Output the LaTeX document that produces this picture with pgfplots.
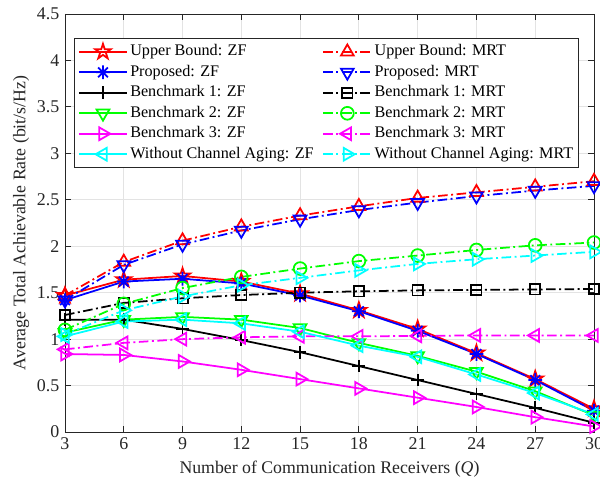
\documentclass[border=0pt]{standalone}
\usepackage{pgfplots}
\pgfplotsset{compat=1.18}
\usepackage{fontspec}
\setmainfont{Liberation Serif}
\usetikzlibrary{plotmarks}
\definecolor{mgreen}{rgb}{0,1,0}
\definecolor{mmag}{rgb}{1,0,1}
\definecolor{mcyan}{rgb}{0,1,1}
\definecolor{axgray}{rgb}{0.15,0.15,0.15}
\pgfdeclareplotmark{pentagram}{%
  \pgfpathmoveto{\pgfpointpolar{90}{\pgfplotmarksize}}%
  \pgfpathlineto{\pgfpointpolar{126}{0.382\pgfplotmarksize}}%
  \pgfpathlineto{\pgfpointpolar{162}{\pgfplotmarksize}}%
  \pgfpathlineto{\pgfpointpolar{198}{0.382\pgfplotmarksize}}%
  \pgfpathlineto{\pgfpointpolar{234}{\pgfplotmarksize}}%
  \pgfpathlineto{\pgfpointpolar{270}{0.382\pgfplotmarksize}}%
  \pgfpathlineto{\pgfpointpolar{306}{\pgfplotmarksize}}%
  \pgfpathlineto{\pgfpointpolar{342}{0.382\pgfplotmarksize}}%
  \pgfpathlineto{\pgfpointpolar{18}{\pgfplotmarksize}}%
  \pgfpathlineto{\pgfpointpolar{54}{0.382\pgfplotmarksize}}%
  \pgfpathclose\pgfusepathqstroke}
\pgfdeclareplotmark{mstar}{%
  \pgfpathmoveto{\pgfqpoint{0pt}{\pgfplotmarksize}}\pgfpathlineto{\pgfqpoint{0pt}{-\pgfplotmarksize}}%
  \pgfpathmoveto{\pgfqpoint{\pgfplotmarksize}{0pt}}\pgfpathlineto{\pgfqpoint{-\pgfplotmarksize}{0pt}}%
  \pgfpathmoveto{\pgfpointpolar{45}{\pgfplotmarksize}}\pgfpathlineto{\pgfpointpolar{225}{\pgfplotmarksize}}%
  \pgfpathmoveto{\pgfpointpolar{135}{\pgfplotmarksize}}\pgfpathlineto{\pgfpointpolar{315}{\pgfplotmarksize}}%
  \pgfusepathqstroke}
\begin{document}
\begin{tikzpicture}
\begin{axis}[
  name=a,
  scale only axis,
  width=330.6pt, height=261.25pt,
  xmin=3, xmax=30, ymin=0, ymax=4.5,
  xtick={3,6,...,30},
  ytick={0,0.5,1,1.5,2,2.5,3,3.5,4,4.5},
  yticklabels={0,0.5,1,1.5,2,2.5,3,3.5,4,4.5},
  tick align=inside, tick pos=both,
  major tick length=4pt,
  axis line style={axgray, line width=0.5pt},
  tick style={axgray, line width=0.5pt},
  grid=major,
  major grid style={gray!22, line width=0.5pt},
  /pgf/number format/assume math mode=true,
  tick label style={font=\fontsize{11.2}{13}\selectfont, text=axgray},
  label style={font=\fontsize{11.1}{13}\selectfont, text=axgray},
  xlabel={Number of Communication Receivers (\textit{Q})},
  ylabel={Average Total Achievable Rate (bit/s/Hz)},
  xlabel style={yshift=0pt},
  ylabel style={yshift=-2pt},
  legend columns=2,
  legend cell align=left,
  legend style={at={(rel axis cs:0.018,0.9426)}, anchor=north west,
    font=\fontsize{10.1}{12}\selectfont, draw=axgray, line width=0.5pt,
    inner xsep=2pt, inner ysep=2pt,
    nodes={text height=0.72em, text depth=0.24em, inner ysep=1.6pt, inner xsep=1.5pt},
    /tikz/every even column/.append style={column sep=4pt}},
  legend image code/.code={\draw[mark repeat=2,mark phase=2] plot coordinates {(0pt,0pt) (15pt,0pt) (30pt,0pt)};},
  every axis plot/.append style={line width=1.1pt},
]
\pgfplotsset{mrt/.style={dash pattern=on 6pt off 2.2pt on 1.2pt off 2.2pt}}
% Upper Bound ZF
\addplot[red, mark=pentagram, mark size=5pt, mark options={solid}] coordinates {
(3,1.47) (6,1.64) (9,1.68) (12,1.62) (15,1.49) (18,1.31) (21,1.11) (24,0.85) (27,0.57) (30,0.25)};
\addlegendentry{Upper Bound: ZF}
% Upper Bound MRT
\addplot[red, mrt, mark=triangle, mark size=4.6pt, mark options={solid}] coordinates {
(3,1.47) (6,1.83) (9,2.06) (12,2.21) (15,2.33) (18,2.43) (21,2.52) (24,2.58) (27,2.64) (30,2.70)};
\addlegendentry{Upper Bound: MRT}
% Proposed ZF
\addplot[blue, mark=mstar, mark size=4.3pt, mark options={solid}] coordinates {
(3,1.42) (6,1.62) (9,1.65) (12,1.60) (15,1.47) (18,1.30) (21,1.09) (24,0.84) (27,0.56) (30,0.23)};
\addlegendentry{Proposed: ZF}
% Proposed MRT
\addplot[blue, mrt, mark=triangle, mark size=4.6pt, mark options={solid, rotate=180}] coordinates {
(3,1.42) (6,1.80) (9,2.02) (12,2.17) (15,2.29) (18,2.39) (21,2.47) (24,2.54) (27,2.60) (30,2.65)};
\addlegendentry{Proposed: MRT}
% Benchmark 1 ZF
\addplot[black, mark=+, mark size=4pt, mark options={solid}] coordinates {
(3,1.21) (6,1.21) (9,1.11) (12,0.99) (15,0.86) (18,0.71) (21,0.56) (24,0.41) (27,0.26) (30,0.10)};
\addlegendentry{Benchmark 1: ZF}
% Benchmark 1 MRT
\addplot[black, mrt, mark=square, mark size=3.2pt, mark options={solid}] coordinates {
(3,1.26) (6,1.39) (9,1.44) (12,1.475) (15,1.50) (18,1.515) (21,1.525) (24,1.53) (27,1.535) (30,1.54)};
\addlegendentry{Benchmark 1: MRT}
% Benchmark 2 ZF
\addplot[mgreen, mark=triangle, mark size=4.6pt, mark options={solid, rotate=180}] coordinates {
(3,1.07) (6,1.21) (9,1.24) (12,1.21) (15,1.12) (18,0.96) (21,0.82) (24,0.65) (27,0.44) (30,0.18)};
\addlegendentry{Benchmark 2: ZF}
% Benchmark 2 MRT
\addplot[mgreen, mrt, mark=o, mark size=4pt, mark options={solid}] coordinates {
(3,1.10) (6,1.38) (9,1.55) (12,1.67) (15,1.76) (18,1.84) (21,1.90) (24,1.96) (27,2.01) (30,2.04)};
\addlegendentry{Benchmark 2: MRT}
% Benchmark 3 ZF
\addplot[mmag, mark=triangle, mark size=4.6pt, mark options={solid, rotate=-90}] coordinates {
(3,0.84) (6,0.83) (9,0.76) (12,0.67) (15,0.57) (18,0.47) (21,0.37) (24,0.27) (27,0.16) (30,0.06)};
\addlegendentry{Benchmark 3: ZF}
% Benchmark 3 MRT
\addplot[mmag, mrt, mark=triangle, mark size=4.6pt, mark options={solid, rotate=90}] coordinates {
(3,0.89) (6,0.96) (9,1.00) (12,1.02) (15,1.03) (18,1.03) (21,1.035) (24,1.04) (27,1.04) (30,1.04)};
\addlegendentry{Benchmark 3: MRT}
% Without CA ZF
\addplot[mcyan, mark=triangle, mark size=4.6pt, mark options={solid, rotate=90}] coordinates {
(3,1.03) (6,1.19) (9,1.21) (12,1.17) (15,1.08) (18,0.93) (21,0.81) (24,0.62) (27,0.42) (30,0.19)};
\addlegendentry{Without Channel Aging: ZF}
% Without CA MRT
\addplot[mcyan, mrt, mark=triangle, mark size=4.6pt, mark options={solid, rotate=-90}] coordinates {
(3,1.05) (6,1.31) (9,1.46) (12,1.58) (15,1.66) (18,1.74) (21,1.81) (24,1.86) (27,1.90) (30,1.94)};
\addlegendentry{Without Channel Aging: MRT}
\end{axis}
\pgfresetboundingbox
\path ([xshift=-40.6pt,yshift=-31.9pt]a.south west) rectangle ([xshift=3.75pt,yshift=8.75pt]a.north east);
\end{tikzpicture}
\end{document}
